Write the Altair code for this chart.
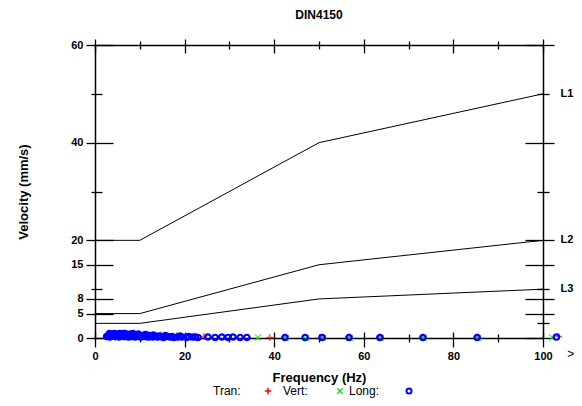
import altair as alt
import pandas as pd

# ---------------- data ----------------
line_freq = [0, 10, 50, 100]
line_l1 = [20, 20, 40, 50]
line_l2 = [5, 5, 15, 20]
line_l3 = [3, 3, 8, 10]
line_names = ["L1", "L2", "L3"]

tran_f = [3.5, 5.2, 6.8, 8.3, 9.8, 11.4, 13.1, 14.7, 16.4, 18.2, 20.1, 22.3, 24.3,
          39.0, 42.4, 50.7, 56.7, 63.6, 73.2, 85.3, 103.5]
tran_v = [0.6, 0.8, 0.5, 0.9, 0.4, 0.7, 0.5, 0.6, 0.4, 0.5, 0.3, 0.4, 0.3,
          0.1, 0.2, 0.2, 0.2, 0.2, 0.2, 0.2, 0.3]

vert_f = [4.0, 5.8, 7.5, 9.2, 10.9, 12.7, 14.3, 16.0, 17.9, 19.8, 21.4,
          36.4, 42.6, 47.1, 50.9, 56.9, 63.8, 73.4, 85.5, 102.0]
vert_v = [0.0, 0.1, 0.0, 0.1, 0.0, 0.1, 0.0, 0.1, 0.0, 0.1, 0.1,
          0.1, 0.0, 0.0, 0.0, 0.0, 0.0, 0.0, 0.0, 0.1]

long_f = [2.6, 3.0, 3.3, 3.6, 3.9, 4.2, 4.5, 4.8, 5.1, 5.4,
          5.7, 6.0, 6.3, 6.6, 6.9, 7.2, 7.5, 7.8, 8.1, 8.4,
          8.7, 9.0, 9.3, 9.6, 9.9, 10.3, 10.7, 11.1, 11.5, 11.9,
          12.4, 12.9, 13.4, 14.0, 14.6, 15.3, 16.0, 16.8, 17.6, 18.5,
          19.4, 20.5, 21.7, 23.0, 25.2, 26.8, 28.3, 29.7, 30.8, 32.4,
          33.9, 42.4, 46.9, 50.7, 56.7, 63.6, 73.2, 85.3, 103.0,
          3.2, 3.7, 4.3, 4.9, 5.5, 6.1, 6.7, 7.3, 7.9, 8.5, 9.1, 9.7, 10.5, 11.3, 12.1, 13.0,
          14.3, 15.7, 17.2, 19.0, 20.9, 22.4]
long_v = [0.3, 0.5, 0.2, 0.6, 0.4, 0.7, 0.3, 0.5, 0.8, 0.2,
          0.6, 0.4, 0.9, 0.3, 0.5, 0.7, 0.2, 0.4, 0.6, 0.3,
          0.5, 0.2, 0.4, 0.6, 0.3, 0.2, 0.5, 0.3, 0.4, 0.2,
          0.3, 0.2, 0.4, 0.2, 0.3, 0.1, 0.3, 0.2, 0.1, 0.2,
          0.2, 0.1, 0.2, 0.1, 0.2, 0.1, 0.2, 0.1, 0.2, 0.1,
          0.1, 0.1, 0.1, 0.1, 0.1, 0.1, 0.1, 0.1, 0.2,
          0.9, 0.8, 0.9, 0.7, 0.9, 0.8, 0.9, 0.7, 0.8, 0.9, 0.6, 0.8, 0.5, 0.7, 0.5, 0.6,
          0.4, 0.5, 0.3, 0.4, 0.3, 0.2]

x_major = [0, 20, 40, 60, 80, 100]
x_minor = [10, 30, 50, 70, 90]
y_major = [0, 5, 8, 15, 20, 40, 60]
y_left_minor = [10, 30, 50]
y_right_minor = [3, 10, 30, 50]

# ---------------- tables ----------------
line_df = pd.DataFrame({
    "freq": line_freq * 3,
    "vel": line_l1 + line_l2 + line_l3,
    "line": [n for n in line_names for _ in line_freq],
})
label_df = pd.DataFrame({"freq": [103.9] * 3, "vel": [line_l1[-1], line_l2[-1], line_l3[-1]],
                         "line": line_names})
tran_df = pd.DataFrame({"freq": tran_f, "vel": tran_v})
vert_df = pd.DataFrame({"freq": vert_f, "vel": vert_v})
long_df = pd.DataFrame({"freq": long_f, "vel": long_v})
more_df = pd.DataFrame({"freq": [106.2], "vel": [0], "t": [">"]})
one = pd.DataFrame({"a": [0]})

FONT = "Liberation Sans"
xs = alt.Scale(domain=[0, 100], nice=False, zero=False)
ys = alt.Scale(domain=[0, 60], nice=False, zero=False)

PLUS = "M-1,0L1,0M0,-1L0,1"
CROSS = "M-1,-1L1,1M-1,1L1,-1"


def ax(orient, values, offset, size, labels=False, title=None, **kw):
    return alt.Axis(orient=orient, values=values, offset=offset, tickSize=size,
                    domain=False, grid=False, labels=labels, title=title,
                    tickColor="black", tickWidth=1.3, labelFlush=False,
                    labelFont=FONT, labelFontWeight="bold", labelFontSize=11,
                    labelColor="black", labelPadding=3,
                    titleFont=FONT, titleFontWeight="bold", titleFontSize=13,
                    titleColor="black", **kw)


def frame(orient):
    # axis line only (draws one side of the plot frame)
    return alt.Axis(orient=orient, values=[0], domain=True, domainColor="black",
                    domainWidth=1.5, ticks=False, labels=False, grid=False, title=None)


lines = alt.Chart(line_df).mark_line(color="black", strokeWidth=1).encode(
    x=alt.X("freq:Q", scale=xs,
            axis=ax("bottom", x_major, -6, 15, labels=True, title="Frequency (Hz)",
                    titlePadding=10)),
    y=alt.Y("vel:Q", scale=ys,
            axis=ax("left", y_major, -18, 27, labels=True, title="Velocity (mm/s)",
                    titlePadding=40)),
    detail="line:N",
)

tran = alt.Chart(tran_df).mark_point(shape=PLUS, filled=False, color="#ff0000",
                                     strokeWidth=1.5, size=45).encode(
    x=alt.X("freq:Q", scale=xs, axis=ax("top", x_major, -8, 14)),
    y=alt.Y("vel:Q", scale=ys, axis=ax("right", y_major, -18, 29)),
)

vert = alt.Chart(vert_df).mark_point(shape=CROSS, filled=False, color="#22dd22",
                                     strokeWidth=1.5, size=36).encode(
    x=alt.X("freq:Q", scale=xs, axis=ax("bottom", x_minor, -4, 8)),
    y=alt.Y("vel:Q", scale=ys, axis=ax("left", y_left_minor, -7, 11)),
)

longp = alt.Chart(long_df).mark_point(shape="circle", filled=False, color="#0000ff",
                                      strokeWidth=2.2, size=30, opacity=1).encode(
    x=alt.X("freq:Q", scale=xs, axis=ax("top", x_minor, -4, 8)),
    y=alt.Y("vel:Q", scale=ys, axis=ax("right", y_right_minor, -6, 12)),
)

labels = alt.Chart(label_df).mark_text(align="left", baseline="middle", font=FONT,
                                       fontWeight="bold", fontSize=11, color="black").encode(
    x=alt.X("freq:Q", scale=xs, axis=frame("bottom")),
    y=alt.Y("vel:Q", scale=ys, axis=frame("left")),
    text="line:N",
)

more = alt.Chart(more_df).mark_text(align="center", baseline="middle", font=FONT,
                                    fontSize=12, dy=16, color="black").encode(
    x=alt.X("freq:Q", scale=xs, axis=frame("top")),
    y=alt.Y("vel:Q", scale=ys, axis=frame("right")),
    text="t:N",
)

LEG_Y = 346


def leg_text(txt, x):
    return alt.Chart(one).mark_text(text=txt, align="left", baseline="middle", font=FONT,
                                    fontSize=12, color="black").encode(
        x=alt.value(x), y=alt.value(LEG_Y))


def leg_sym(shape, color, x, size, sw=1.5):
    return alt.Chart(one).mark_point(shape=shape, filled=False, color=color,
                                     strokeWidth=sw, size=size, opacity=1).encode(
        x=alt.value(x), y=alt.value(LEG_Y))


legend = [
    leg_text("Tran:", 118), leg_sym(PLUS, "#ff0000", 173, 40),
    leg_text("Vert:", 188), leg_sym(CROSS, "#22dd22", 245, 30),
    leg_text("Long:", 254), leg_sym("circle", "#0000ff", 314, 26, 2.0),
]

chart = alt.layer(lines, tran, vert, longp, labels, more, *legend).resolve_axis(
    x="independent", y="independent"
).properties(
    width=448, height=293,
    title=alt.TitleParams(text="DIN4150", font=FONT, fontWeight="bold", fontSize=12,
                          color="black", anchor="middle", offset=16),
    autosize=alt.AutoSizeParams(type="none"),
    padding={"left": 87, "top": 37, "right": 31, "bottom": 60},
    background="white",
).configure_view(stroke=None).configure(font=FONT)

chart.save("out.html", embed_options={"renderer": "svg", "actions": False})
